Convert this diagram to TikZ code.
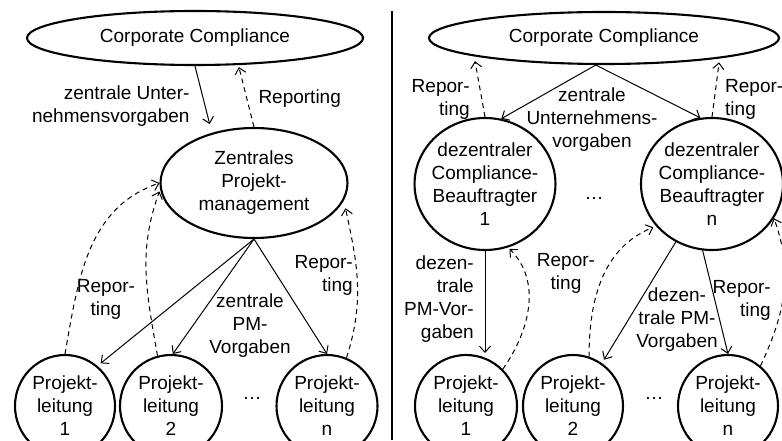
\documentclass[tikz,border=0pt]{standalone}
\usepackage{fontspec}
\setmainfont{Liberation Sans}
\usetikzlibrary{shapes.geometric,arrows.meta}

\begin{document}
\begin{tikzpicture}[x=1pt,y=1pt,
   font=\fontsize{19}{23}\selectfont,
   every node/.style={inner sep=0pt},
   ell/.style={draw,ellipse,line width=2.1pt,align=center},
   flow/.style={-{Straight Barb[length=6pt,width=11pt]},line width=1pt},
   report/.style={flow,dash pattern=on 5pt off 4pt},
   lbl/.style={align=center}]
\useasboundingbox (0,0) rectangle (782,440);
\clip (0,0) rectangle (782,440);

\node[ell,minimum width=336pt,minimum height=54pt] (cc1) at (195,402) {Corporate Compliance};
\node[ell,minimum width=187pt,minimum height=110pt] (zp) at (254,257) {Zentrales\\Projekt-\\management};
\node[ell,minimum width=100pt,minimum height=102pt] (pl11) at (65,34) {Projekt-\\leitung\\1};
\node[ell,minimum width=102pt,minimum height=102pt] (pl12) at (171,34) {Projekt-\\leitung\\2};
\node[ell,minimum width=101pt,minimum height=102pt] (pl1n) at (327,34) {Projekt-\\leitung\\n};
\node (dots1) at (252,42) {…};

\draw[flow,shorten >=9pt] (cc1.south) -- (zp.130)
	node[lbl,align=right,anchor=east] (lzu) at (190,334) {zentrale Unter-\\nehmensvorgaben};
\draw[report,shorten >=2pt] (zp.north) -- (cc1.-32)
	node[lbl,anchor=west] (lr1) at (258,341) {Reporting};
\draw[flow,shorten >=4pt] (zp.south) -- (pl11.51);
\draw[flow] (zp.south) -- (pl12.88);
\draw[flow] (zp.south) -- (pl1n.north);
\node[lbl] (lzpm) at (250,114) {zentrale\\PM-\\Vorgaben};
\draw[report] (pl11.north) to[out=80,in=199] (zp.west);
\draw[report,shorten >=2pt] (pl12.105) to[out=100,in=250] (zp.184);
\node[lbl] (lr2) at (106,141) {Repor-\\ting};
\draw[report,shorten >=8pt] (pl1n.68) to[out=72,in=-78] (zp.-11);
\node[lbl,align=right,anchor=east] (lr3) at (353,165) {Repor-\\ting};

\draw[line width=2pt] (392,0) -- (392,429);

\node[ell,minimum width=350pt,minimum height=52pt] (cc2) at (604,402) {Corporate Compliance};
\node[ell,inner xsep=-3.5pt,minimum width=138pt,minimum height=132pt] (dcb1) at (485,256) {dezentraler\\Compliance-\\Beauftragter\\1};
\node[ell,inner xsep=-3.5pt,minimum width=142pt,minimum height=132pt] (dcbn) at (712,256) {dezentraler\\Compliance-\\Beauftragter\\n};
\node (dots2) at (594,242) {…};
\node[ell,minimum width=102pt,minimum height=102pt] (pl21) at (466,34) {Projekt-\\leitung\\1};
\node[ell,minimum width=100pt,minimum height=102pt] (pl22) at (573,34) {Projekt-\\leitung\\2};
\node[ell,minimum width=100pt,minimum height=102pt] (pl2n) at (728,34) {Projekt-\\leitung\\n};
\node (dots3) at (654,42) {…};

\draw[flow] (cc2.253) -- (dcb1.76);
\draw[flow] (cc2.253) -- (dcbn.100);
\node[lbl] (lzu2) at (592,320) {zentrale\\Unternehmens-\\vorgaben};
\draw[report,shorten >=5pt] (dcb1.north) -- (cc2.188);
\node[lbl,align=right,anchor=east] (lr4) at (470,341) {Repor-\\ting};
\draw[report,shorten >=4pt] (dcbn.north) -- (cc2.-10);
\node[lbl,align=left,anchor=west] (lr5) at (725,341) {Repor-\\ting};
\draw[flow,shorten >=1pt] (dcb1.south) -- (dcb1.south |- pl21.north);
\node[lbl,align=right,anchor=east] (ldz1) at (474,141) {dezen-\\trale\\PM-Vor-\\gaben};
\draw[report,shorten >=2pt] (pl21.45) to[out=55,in=-45] (dcb1.-70);
\node[lbl] (lr6) at (566,167) {Repor-\\ting};
\draw[flow,shorten >=4pt] (dcbn.238) -- (pl22.56);
\draw[flow] (dcbn.262) -- (pl2n.north);
\node[lbl] (ldz2) at (677,120) {dezen-\\trale PM-\\Vorgaben};
\draw[report,shorten >=3pt] (pl22.72) to[out=90,in=202] (dcbn.217);
\draw[report] (pl2n.51) to[out=65,in=-70] (dcbn.-29);
\node[lbl,align=right,anchor=east] (lr7) at (771,140) {Repor-\\ting};

\end{tikzpicture}
\end{document}
